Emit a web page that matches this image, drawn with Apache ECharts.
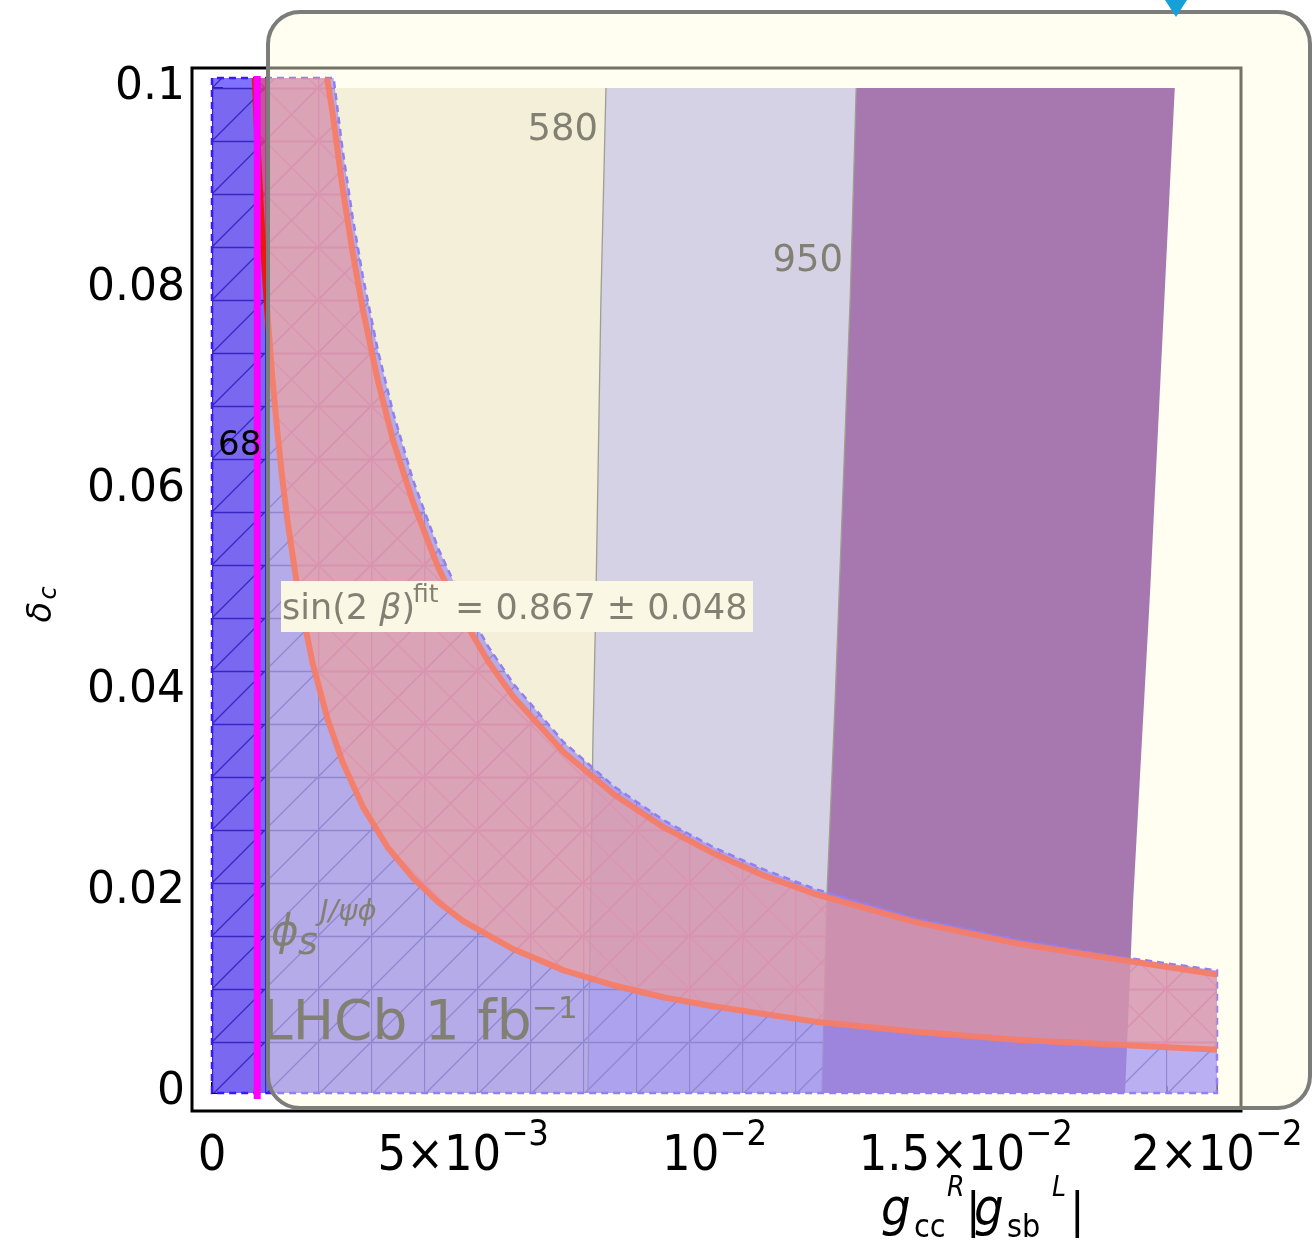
<!DOCTYPE html>
<html>
<head>
<meta charset="utf-8">
<title>delta_c vs g_cc^R |g_sb^L|</title>
<script src="https://cdn.jsdelivr.net/npm/echarts@6/dist/echarts.min.js"></script>
<style>
  html, body { margin: 0; padding: 0; background: #fff; }
  #chart { width: 1313px; height: 1250px; }
</style>
</head>
<body>
<div id="chart"></div>
<script>
// x = g_cc^R |g_sb^L| , y = delta_c

// tick labels
const xTickValues = [0, 0.005, 0.01, 0.015, 0.02]
const xTickBase = ['0', '5×10', '10', '1.5×10', '2×10']
const xTickExp = ['', '−3', '−2', '−2', '−2']
const yTickLabels = ['0', '0.02', '0.04', '0.06', '0.08', '0.1']

// LHCb phi_s region, upper (dashed) edge
const phiX = [0, 0, 0.00242, 0.0026, 0.0028, 0.003, 0.0033, 0.0036, 0.004, 0.0045, 0.005, 0.0055, 0.006, 0.007, 0.008, 0.009, 0.010, 0.011, 0.012, 0.014, 0.016, 0.018, 0.020, 0.020]
const phiY = [0, 0.101, 0.101, 0.0938, 0.0871, 0.0813, 0.0739, 0.0678, 0.061, 0.0542, 0.0488, 0.0444, 0.0407, 0.0349, 0.0305, 0.0271, 0.0244, 0.0222, 0.0203, 0.0174, 0.0153, 0.0136, 0.0122, 0]

// sin(2 beta) fit band
const bandUpX = [0.00229, 0.0024, 0.0026, 0.0028, 0.003, 0.0033, 0.0036, 0.004, 0.0045, 0.005, 0.0055, 0.006, 0.007, 0.008, 0.009, 0.010, 0.011, 0.012, 0.014, 0.016, 0.018, 0.020]
const bandUpY = [0.101, 0.0975, 0.0900, 0.0836, 0.078, 0.0709, 0.065, 0.0588, 0.0523, 0.0472, 0.0429, 0.0394, 0.0339, 0.0297, 0.0264, 0.0238, 0.0216, 0.0198, 0.0170, 0.0149, 0.0133, 0.0118]
const bandLoX = [0.00085, 0.0009, 0.001, 0.0011, 0.0012, 0.0013, 0.0014, 0.0015, 0.0017, 0.002, 0.0023, 0.0026, 0.003, 0.0035, 0.004, 0.0045, 0.005, 0.006, 0.007, 0.008, 0.009, 0.010, 0.012, 0.014, 0.016, 0.018, 0.020]
const bandLoY = [0.101, 0.095, 0.0855, 0.0778, 0.0712, 0.0658, 0.0611, 0.057, 0.0503, 0.0428, 0.0372, 0.0329, 0.0285, 0.0244, 0.0214, 0.019, 0.0171, 0.0143, 0.0122, 0.0107, 0.0095, 0.0086, 0.0071, 0.0061, 0.0053, 0.0048, 0.0043]

// mass contours 580 / 950 and right edge of last band
const c580X = [0.00784, 0.00774, 0.00764, 0.00758, 0.00748]
const c580Y = [0.1, 0.079, 0.049, 0.035, 0]
const c950X = [0.01282, 0.0127, 0.0124, 0.01224, 0.01214]
const c950Y = [0.1, 0.079, 0.039, 0.020, 0]
const cEndX = [0.01916, 0.01906, 0.01867, 0.01833, 0.01817]
const cEndY = [0.1, 0.09, 0.05, 0.019, 0]

// the 68 contour (magenta)
const m68X = [0.0009, 0.0009]
const m68Y = [-0.0006, 0.1012]

const sans = '"DejaVu Sans", sans-serif'
const cond = '"DejaVu Sans Condensed", "DejaVu Sans", sans-serif'
const ink = '#1a1a1a'

const pairs = (xs, ys) => xs.map((x, i) => [x, ys[i]])
const rev = a => a.slice().reverse()

// hatch tiles, 53px grid lined up with the data origin
function makeHatch(color, cross) {
  const s = 53, oy = 35
  const c = document.createElement('canvas')
  c.width = s
  c.height = s
  const g = c.getContext('2d')
  g.strokeStyle = color
  g.lineWidth = 1.3
  g.beginPath()
  g.moveTo(0, oy + 0.5); g.lineTo(s, oy + 0.5)
  g.moveTo(0.5, 0); g.lineTo(0.5, s)
  for (let k = -1; k <= 2; k++) {
    g.moveTo(0, oy + k * s); g.lineTo(s, oy + k * s - s)
    if (cross) { g.moveTo(0, oy + k * s); g.lineTo(s, oy + k * s + s) }
  }
  g.stroke()
  return c
}
const phiHatch = makeHatch('rgba(0,0,50,0.9)', false)
const bandHatch = makeHatch('rgba(255,40,140,0.9)', true)

function region(name, pts, z, style) {
  return {
    type: 'custom',
    name: name,
    z: z,
    silent: true,
    clip: false,
    data: pts,
    encode: { x: 0, y: 1 },
    renderItem(params, api) {
      if (params.dataIndex !== 0) return null
      return { type: 'polygon', shape: { points: pts.map(p => api.coord(p)) }, style: style }
    }
  }
}

function curve(name, xs, ys, z, color, width, opacity) {
  return {
    type: 'line',
    name: name,
    z: z,
    silent: true,
    clip: false,
    showSymbol: false,
    data: pairs(xs, ys),
    lineStyle: { color: color, width: width, opacity: opacity == null ? 1 : opacity }
  }
}

const beigePts = [[0, 0], [0, 0.1]].concat(pairs(c580X, c580Y))
const grayPts = pairs(c580X, c580Y).concat(rev(pairs(c950X, c950Y)))
const purplePts = pairs(c950X, c950Y).concat(rev(pairs(cEndX, cEndY)))
const phiPts = pairs(phiX, phiY)
const bandPts = pairs(bandUpX, bandUpY).concat(rev(pairs(bandLoX, bandLoY)))

function txt(text, x, y, size, extra) {
  return {
    type: 'text',
    z: 10,
    silent: true,
    style: Object.assign({
      text: text, x: x, y: y,
      font: size + 'px ' + sans,
      fill: ink,
      align: 'left',
      verticalAlign: 'middle'
    }, extra || {})
  }
}

// x axis title pieces: text, x, y(middle), size, italic
const xTitle = [
  ['g', 881, 1211, 52, true], ['cc', 914, 1229, 32, false], ['R', 947, 1189, 28, true],
  ['|', 966, 1215, 48, false], ['g', 974, 1211, 52, true], ['sb', 1007, 1229, 32, false],
  ['L', 1052, 1189, 28, true], ['|', 1070, 1215, 48, false]
]

const chart = echarts.init(document.getElementById('chart'))

chart.setOption({
  animation: false,
  backgroundColor: '#fff',
  grid: { left: 212, right: 96, top: 88, bottom: 157 },
  xAxis: {
    type: 'value',
    min: 0,
    max: 0.02,
    interval: 0.005,
    offset: 18,
    axisLine: { show: false },
    axisTick: { show: true, inside: true, length: 11, lineStyle: { color: '#000', width: 2 } },
    minorTick: { show: true, splitNumber: 5, length: 7, lineStyle: { color: '#000', width: 2 } },
    splitLine: { show: false },
    axisLabel: {
      margin: 7,
      formatter: v => {
        const i = xTickValues.findIndex(t => Math.abs(t - v) < 1e-9)
        if (i < 0) return ''
        return xTickExp[i] ? '{b|' + xTickBase[i] + '}{e|' + xTickExp[i] + '}' : '{b|' + xTickBase[i] + '}'
      },
      rich: {
        b: { fontSize: 50, fontFamily: cond, color: '#000', lineHeight: 64, verticalAlign: 'bottom' },
        e: { fontSize: 36, fontFamily: cond, color: '#000', lineHeight: 30, verticalAlign: 'top' }
      }
    }
  },
  yAxis: {
    type: 'value',
    min: 0,
    max: 0.1,
    interval: 0.02,
    offset: 20,
    axisLine: { show: false },
    axisTick: { show: true, inside: true, length: 11, lineStyle: { color: '#000', width: 2 } },
    minorTick: { show: true, splitNumber: 4, length: 7, lineStyle: { color: '#000', width: 2 } },
    splitLine: { show: false },
    axisLabel: {
      margin: 7,
      fontSize: 44,
      fontFamily: sans,
      color: '#000',
      formatter: v => yTickLabels[Math.round(v / 0.02)]
    }
  },
  series: [
    region('m < 580', beigePts, 1, { fill: '#e9e4d1' }),
    region('580 - 950', grayPts, 1, { fill: '#b2b0e9' }),
    // mesh lines sit under the translucent fills
    region('phi_s mesh', phiPts, 2, { fill: { image: phiHatch, repeat: 'repeat' } }),
    region('band mesh', bandPts, 2, { fill: { image: bandHatch, repeat: 'repeat' } }),
    region('> 950', purplePts, 3, { fill: '#600c88' }),
    curve('580', c580X, c580Y, 4, '#505050', 1.3),
    curve('950', c950X, c950Y, 4, '#505050', 1.3),
    region('phi_s J/psi phi', phiPts, 5, { fill: 'rgba(70,45,255,0.68)', stroke: '#3a18ff', lineWidth: 2.5, lineDash: [7, 5] }),
    region('sin(2 beta) fit', bandPts, 6, { fill: 'rgba(255,75,55,0.5)' }),
    curve('band upper', bandUpX, bandUpY, 7, '#f01400', 6, 0.92),
    curve('band lower', bandLoX, bandLoY, 7, '#f01400', 6, 0.92),
    curve('68', m68X, m68Y, 8, '#ff00ff', 7)
  ],
  graphic: [
    txt('580', 598, 130, 37, { align: 'right' }),
    txt('950', 843, 261, 37, { align: 'right' }),
    txt('68', 218, 446, 34, { fill: '#000' }),
    { type: 'rect', z: 9, silent: true, shape: { x: 281, y: 581, width: 472, height: 51 }, style: { fill: '#f6f3e8' } },
    {
      type: 'text', z: 10, silent: true,
      style: {
        text: '{r|sin(2 }{i|β}{r|)}', x: 282, y: 610, verticalAlign: 'middle', align: 'left',
        rich: {
          r: { fontSize: 35, fontFamily: sans, fill: ink },
          i: { fontSize: 35, fontFamily: sans, fontStyle: 'italic', fill: ink }
        }
      }
    },
    txt('fit', 413, 595, 25),
    txt('= 0.867 ± 0.048', 455, 610, 35),
    txt('ϕ', 271, 934, 42, { font: 'italic 42px ' + sans }),
    txt('s', 298, 944, 38, { font: 'italic 38px ' + sans }),
    txt('J/ψϕ', 320, 912, 29, { font: 'italic 29px ' + sans }),
    txt('LHCb 1 fb', 262, 1025, 55),
    txt('−1', 532, 1010, 31),
    // y title, rotated
    {
      type: 'group', x: 42, y: 606, rotation: Math.PI / 2, silent: true,
      children: [
        { type: 'text', z: 10, style: { text: 'δ', x: -6, y: 0, font: 'italic 34px ' + sans, fill: '#000', align: 'center', verticalAlign: 'middle' } },
        { type: 'text', z: 10, style: { text: 'c', x: 13, y: 8, font: 'italic 24px ' + sans, fill: '#000', align: 'center', verticalAlign: 'middle' } }
      ]
    },
    ...xTitle.map(p => txt(p[0], p[1], p[2], p[3], { font: (p[4] ? 'italic ' : '') + p[3] + 'px ' + cond, fill: '#000' })),
    // frame
    { type: 'rect', z: 40, silent: true, shape: { x: 192, y: 68, width: 1049, height: 1043 }, style: { fill: 'none', stroke: '#000', lineWidth: 3 } },
    // translucent popup box lying over the plot
    { type: 'rect', z: 50, silent: true, shape: { x: 268, y: 12, width: 1042, height: 1096, r: 32 }, style: { fill: 'rgba(255,252,225,0.45)', stroke: '#7c7c7a', lineWidth: 4 } },
    { type: 'polygon', z: 60, silent: true, shape: { points: [[1165, 0], [1187, 0], [1176, 17]] }, style: { fill: '#17a0d8' } }
  ]
})
</script>
</body>
</html>
